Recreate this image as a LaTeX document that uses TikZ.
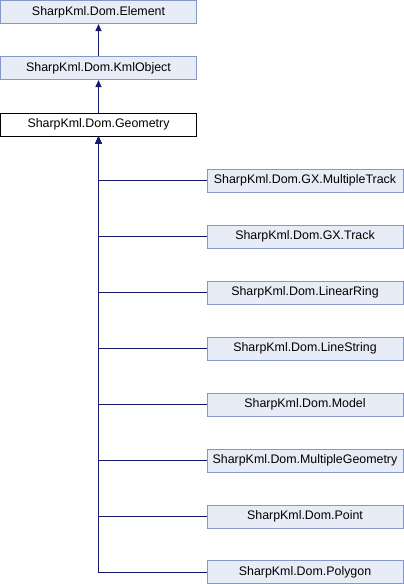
\documentclass[tikz,border=0pt]{standalone}
\usepackage{fontspec}
\setmainfont{Liberation Sans}
\usetikzlibrary{arrows.meta}
\definecolor{boxfill}{RGB}{232,236,246}
\definecolor{boxline}{RGB}{132,152,200}
\definecolor{edgec}{RGB}{25,25,112}
\tikzset{
  cls/.style={draw=boxline, fill=boxfill, line width=1pt, minimum width=196pt, minimum height=23pt, inner sep=0pt, font=\fontsize{12.4}{14}\selectfont},
  cur/.style={cls, draw=black, fill=white},
  edge/.style={draw=edgec, line width=1pt, -{Triangle[length=7pt,width=6pt]}}
}
\begin{document}
\begin{tikzpicture}[x=1pt,y=-1pt]
\useasboundingbox (0,0) rectangle (404,584);
\node[cls] (elem) at (98.5,12) {SharpKml.Dom.Element};
\node[cls] (kml) at (98.5,68) {SharpKml.Dom.KmlObject};
\node[cur] (geom) at (98.5,124.5) {SharpKml.Dom.Geometry};
\node[cls] (c1) at (305,180.5) {SharpKml.Dom.GX.MultipleTrack};
\node[cls] (c2) at (305,236.5) {SharpKml.Dom.GX.Track};
\node[cls] (c3) at (305,292.5) {SharpKml.Dom.LinearRing};
\node[cls] (c4) at (305,348.5) {SharpKml.Dom.LineString};
\node[cls] (c5) at (305,404.5) {SharpKml.Dom.Model};
\node[cls] (c6) at (305,460.5) {SharpKml.Dom.MultipleGeometry};
\node[cls] (c7) at (305,516.5) {SharpKml.Dom.Point};
\node[cls] (c8) at (305,572) {SharpKml.Dom.Polygon};
\draw[edge] (kml) -- (elem);
\draw[edge] (geom) -- (kml);
\foreach \c in {c1,c2,c3,c4,c5,c6,c7,c8}{
  \draw[edge] (\c.west) -| (geom.south);
}
\end{tikzpicture}
\end{document}
